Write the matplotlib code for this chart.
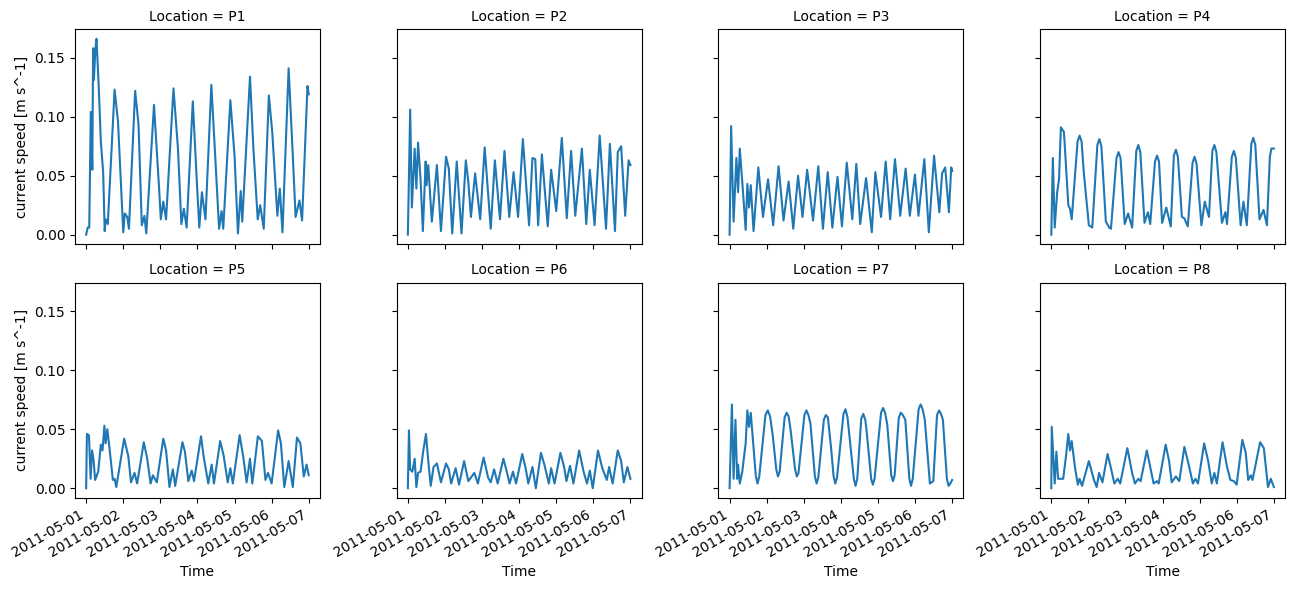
import matplotlib
matplotlib.use("Agg")
import matplotlib.pyplot as plt
import numpy as np
import pandas as pd

# turning points: hours since 2011-05-01 00:00, speed in m/s
start = pd.Timestamp("2011-05-01")
locations = ["P1", "P2", "P3", "P4", "P5", "P6", "P7", "P8"]

p1_hours = [0, 1, 2, 3, 4, 4.5, 5, 6, 6.7, 8, 9.5, 11, 12, 12.6, 14, 18.4, 20.6, 24, 25, 26.6, 27.7,
            31.7, 33.9, 36, 37.7, 38.9, 43.9, 47.2, 48.3, 49.9, 51.7, 56.5, 59.4, 61.6, 63.2, 65,
            69, 71.6, 73.2, 74.9, 77.2, 81, 83.8, 86, 87.6, 88.7, 93.3, 96, 98.2, 100, 101,
            106, 108.2, 111, 112.6, 114.9, 118.2, 120.4, 123.7, 125.3, 127, 131, 133.7, 135.5,
            138, 139.7, 143.2, 144]
p1_speed = [0.0, 0.006, 0.006, 0.104, 0.055, 0.158, 0.131, 0.158, 0.166, 0.13, 0.079, 0.053, 0.003,
            0.013, 0.009, 0.123, 0.096, 0.002, 0.018, 0.015, 0.005, 0.122, 0.093, 0.008, 0.016,
            0.001, 0.110, 0.039, 0.013, 0.028, 0.013, 0.124, 0.073, 0.009, 0.022, 0.006, 0.113,
            0.045, 0.006, 0.036, 0.013, 0.127, 0.059, 0.005, 0.020, 0.005, 0.114, 0.067, 0.001,
            0.037, 0.011, 0.134, 0.073, 0.013, 0.025, 0.005, 0.118, 0.087, 0.016, 0.039, 0.002,
            0.141, 0.067, 0.015, 0.029, 0.012, 0.126, 0.119]

p2_hours = [0, 1.5, 2.6, 4.4, 5.5, 6.6, 8.2, 9.7, 11.5, 12.1, 13.2, 15.5, 18.8, 21.4, 24.7, 26.5,
            28.7, 31.6, 34.7, 37.5, 39.1, 40.8, 43.5, 46.8, 49.7, 53.6, 56.3, 59.6, 62.5, 65.6,
            68.4, 71.3, 74.4, 78.4, 80.6, 82.4, 84.3, 86.7, 90.5, 92.7, 96, 99.6, 102.8, 105.6,
            108.3, 112.6, 115.4, 117.7, 120.8, 124.1, 128.2, 130.7, 134, 135.8, 138, 140.6,
            142.8, 144]
p2_speed = [0.0, 0.106, 0.023, 0.073, 0.039, 0.078, 0.047, 0.003, 0.062, 0.042, 0.059, 0.011,
            0.059, 0.003, 0.066, 0.056, 0.001, 0.062, 0.001, 0.063, 0.045, 0.015, 0.052, 0.013,
            0.074, 0.005, 0.063, 0.013, 0.071, 0.015, 0.053, 0.015, 0.081, 0.008, 0.065, 0.064,
            0.008, 0.068, 0.007, 0.055, 0.020, 0.082, 0.014, 0.071, 0.016, 0.073, 0.009, 0.055,
            0.008, 0.084, 0.005, 0.077, 0.003, 0.070, 0.075, 0.016, 0.063, 0.059]

p3_hours = [0, 1, 2.6, 4.4, 5.5, 6.6, 8.2, 10.4, 11.5, 12.6, 13.7, 15.5, 18.6, 21.6, 24.9, 28.2,
            31.7, 34.9, 38.2, 41.2, 44.3, 47.2, 50.2, 54, 57.4, 60.4, 63.5, 66.5, 69.8, 72.7,
            75.8, 79.4, 82, 84.5, 88.3, 92, 94.3, 98, 101, 103.9, 107, 110.4, 113.9, 116.6,
            119.9, 122.2, 126, 128.9, 132.3, 135.7, 137.5, 139.5, 141.9, 143.4, 144]
p3_speed = [0.0, 0.092, 0.011, 0.065, 0.036, 0.073, 0.045, 0.004, 0.043, 0.023, 0.042, 0.003,
            0.057, 0.015, 0.047, 0.008, 0.058, 0.012, 0.045, 0.005, 0.050, 0.015, 0.055, 0.012,
            0.058, 0.005, 0.053, 0.006, 0.049, 0.007, 0.061, 0.013, 0.060, 0.009, 0.048, 0.002,
            0.053, 0.015, 0.062, 0.013, 0.064, 0.016, 0.056, 0.016, 0.051, 0.016, 0.064, 0.002,
            0.067, 0.019, 0.052, 0.057, 0.019, 0.057, 0.054]

p4_hours = [0, 1, 2.2, 3.8, 5, 6.2, 8.2, 11, 12.1, 13.2, 17, 18.3, 19.6, 21, 24.3, 26.5,
            29.8, 31.1, 32.4, 35.3, 37.5, 38.6, 42.2, 43.5, 44.8, 47.5, 49.7, 52.3, 55, 56.3,
            57.6, 60.3, 62.5, 64, 67.1, 68.4, 69.7, 71.7, 74.4, 77.3, 79.3, 80.6, 81.9, 84.5,
            86, 88.3, 91.4, 92.7, 94, 97.1, 99.3, 102, 104.2, 105.5, 106.8, 110.4, 112.6, 113.7,
            116.8, 118.1, 119.4, 122.5, 124.3, 126.5, 129.4, 130.7, 132, 134.7, 137.3, 139.5,
            141.4, 142.4, 144]
p4_speed = [0.0, 0.065, 0.006, 0.036, 0.047, 0.091, 0.087, 0.025, 0.022, 0.013, 0.079, 0.084,
            0.079, 0.053, 0.008, 0.006, 0.076, 0.081, 0.075, 0.011, 0.006, 0.005, 0.065, 0.070,
            0.065, 0.009, 0.018, 0.006, 0.071, 0.076, 0.070, 0.010, 0.019, 0.009, 0.062, 0.067,
            0.062, 0.010, 0.023, 0.007, 0.067, 0.072, 0.066, 0.015, 0.014, 0.007, 0.061, 0.066,
            0.060, 0.008, 0.028, 0.015, 0.071, 0.076, 0.070, 0.010, 0.019, 0.009, 0.066, 0.071,
            0.065, 0.008, 0.028, 0.008, 0.077, 0.082, 0.076, 0.013, 0.021, 0.008, 0.066, 0.073,
            0.073]

p5_hours = [0, 0.5, 1.8, 2.9, 3.8, 4.8, 5.8, 7.8, 9.5, 10.6, 11.8, 12.6, 13.7, 15.1, 17.3, 18.4,
            19.5, 24.6, 27.3, 29, 31.3, 33, 37.3, 39.5, 41.7, 43.2, 45.7, 49.9, 51.7, 53.9, 56.1,
            57.6, 62.3, 63.9, 66.1, 68.3, 69.8, 74.3, 76, 79, 81.2, 82.7, 86.7, 88.9, 91.6, 93.3,
            94.9, 99.3, 101.6, 103.8, 106, 107.5, 111.1, 113.7, 116, 117.7, 120, 124.2, 126,
            128.2, 131, 133.7, 136.4, 138.6, 140.8, 142.6, 144]
p5_speed = [0.0, 0.046, 0.045, 0.008, 0.032, 0.024, 0.007, 0.014, 0.037, 0.032, 0.053, 0.038,
            0.050, 0.034, 0.007, 0.008, 0.001, 0.042, 0.027, 0.005, 0.013, 0.004, 0.039, 0.025,
            0.004, 0.011, 0.005, 0.042, 0.032, 0.001, 0.016, 0.002, 0.039, 0.031, 0.006, 0.015,
            0.006, 0.044, 0.027, 0.004, 0.020, 0.004, 0.040, 0.028, 0.005, 0.017, 0.004, 0.045,
            0.027, 0.005, 0.025, 0.004, 0.044, 0.040, 0.007, 0.013, 0.004, 0.049, 0.038, 0.001,
            0.023, 0.001, 0.043, 0.038, 0.010, 0.020, 0.011]

p6_hours = [0, 0.7, 1.5, 2.9, 4.4, 5.5, 6.6, 8.2, 9.9, 11.7, 13.2, 14.8, 16.6, 18.8, 21.4, 24.7,
            26.5, 28, 30.9, 33.1, 36.4, 39.1, 43, 45.3, 49, 51.9, 53.6, 55.8, 58.1, 61.8, 64,
            65.8, 68, 70, 74, 76.2, 77.9, 80.6, 82.8, 86.1, 88.3, 91.2, 92.7, 94.9, 98.7, 101.1,
            102.6, 104.9, 107.1, 110.8, 113.7, 115.9, 117.7, 119.6, 123, 125.8, 128.7, 130.2,
            132.5, 135.8, 138, 139.7, 142, 144]
p6_speed = [0.0, 0.049, 0.016, 0.014, 0.025, 0.001, 0.013, 0.014, 0.031, 0.046, 0.023, 0.002,
            0.018, 0.021, 0.005, 0.021, 0.016, 0.004, 0.017, 0.003, 0.023, 0.006, 0.013, 0.004,
            0.026, 0.009, 0.005, 0.016, 0.004, 0.025, 0.014, 0.004, 0.014, 0.004, 0.029, 0.017,
            0.004, 0.018, 0.000, 0.030, 0.020, 0.004, 0.017, 0.004, 0.030, 0.018, 0.006, 0.019,
            0.004, 0.032, 0.014, 0.004, 0.015, 0.000, 0.032, 0.017, 0.007, 0.018, 0.004, 0.032,
            0.023, 0.005, 0.018, 0.008]

p7_hours = [0, 1.5, 2.6, 3.8, 4.9, 5.5, 6.6, 8.2, 10.4, 11.5, 12.6, 13.7, 17, 18.1, 19.2, 23.2,
            24.7, 26.2, 28, 30.2, 31.3, 32.4, 35.6, 36.9, 38.2, 39.5, 42.4, 43.5, 44.6, 48.4,
            49.7, 51, 52.3, 55.2, 56.3, 57.4, 61, 62.3, 63.6, 65.6, 67.3, 68.4, 69.5, 73.7, 75,
            76.3, 80.4, 81.5, 82.6, 85.2, 86.5, 87.8, 88.7, 91.6, 92.7, 93.8, 98, 99.3, 100.6,
            102, 104.6, 105.7, 106.8, 109.5, 110.8, 112.1, 113.7, 116.3, 117.4, 118.5, 122.3,
            123.6, 124.9, 126.3, 129.6, 131.8, 134.2, 135.5, 136.8, 138, 140.6, 141.7, 142.8, 144]
p7_speed = [0.0, 0.071, 0.008, 0.058, 0.008, 0.020, 0.004, 0.014, 0.038, 0.066, 0.052, 0.064,
            0.010, 0.004, 0.010, 0.062, 0.066, 0.061, 0.044, 0.016, 0.010, 0.014, 0.060, 0.064,
            0.061, 0.049, 0.016, 0.010, 0.013, 0.062, 0.066, 0.062, 0.055, 0.010, 0.004, 0.009,
            0.058, 0.062, 0.060, 0.035, 0.010, 0.004, 0.009, 0.063, 0.067, 0.060, 0.008, 0.002,
            0.008, 0.059, 0.063, 0.058, 0.048, 0.008, 0.003, 0.008, 0.064, 0.068, 0.064, 0.054,
            0.011, 0.006, 0.011, 0.060, 0.064, 0.062, 0.058, 0.008, 0.002, 0.008, 0.067, 0.071,
            0.067, 0.058, 0.004, 0.006, 0.062, 0.066, 0.063, 0.058, 0.008, 0.002, 0.004, 0.007]

p8_hours = [0, 0.3, 2.2, 3.3, 4.4, 6, 7.7, 9.5, 11, 12.1, 13.2, 15.5, 17.2, 18.3, 19.9, 24.3, 27.6,
            29.4, 30.9, 33.1, 36.4, 38.6, 40.8, 43, 44.6, 49.2, 52.3, 54.1, 56.3, 57.8, 61.8, 64,
            66.2, 68.4, 69.5, 74, 76.2, 77.9, 80.6, 82.8, 86.1, 88.7, 91.6, 93.2, 94.9, 98.9,
            101.5, 103.8, 105.5, 107.1, 110.8, 113.7, 115.9, 118.1, 119.9, 123.6, 125.8, 127.4,
            129.1, 130.2, 135.1, 137.5, 140.2, 142, 144]
p8_speed = [0.0, 0.052, 0.004, 0.031, 0.008, 0.008, 0.008, 0.027, 0.046, 0.032, 0.040, 0.016,
            0.003, 0.008, 0.002, 0.023, 0.007, 0.001, 0.013, 0.005, 0.029, 0.017, 0.004, 0.008,
            0.004, 0.034, 0.013, 0.004, 0.008, 0.006, 0.032, 0.018, 0.004, 0.006, 0.004, 0.037,
            0.023, 0.005, 0.010, 0.006, 0.035, 0.021, 0.004, 0.008, 0.004, 0.038, 0.023, 0.004,
            0.013, 0.004, 0.039, 0.018, 0.007, 0.006, 0.003, 0.041, 0.030, 0.007, 0.011, 0.007,
            0.039, 0.034, 0.001, 0.008, 0.001]

series = {
    "P1": (p1_hours, p1_speed), "P2": (p2_hours, p2_speed),
    "P3": (p3_hours, p3_speed), "P4": (p4_hours, p4_speed),
    "P5": (p5_hours, p5_speed), "P6": (p6_hours, p6_speed),
    "P7": (p7_hours, p7_speed), "P8": (p8_hours, p8_speed),
}

fig, axes = plt.subplots(2, 4, figsize=(12.89, 5.90), dpi=100, sharex=True, sharey=True)
fig.subplots_adjust(left=0.0582, right=0.9969, top=0.9508, bottom=0.1559,
                    wspace=0.314, hspace=0.177)

for ax, loc in zip(axes.flat, locations):
    hours, speed = series[loc]
    times = start + pd.to_timedelta(np.array(hours), unit="h")
    ax.plot(times, speed, color="#1f77b4")
    ax.set_title(f"Location = {loc}", fontsize=10)

for ax in axes[:, 0]:
    ax.set_ylabel("current speed [m s^-1]")
for ax in axes[1, :]:
    ax.set_xlabel("Time")
    plt.setp(ax.get_xticklabels(), rotation=30, ha="right")

fig.savefig("out.png")
